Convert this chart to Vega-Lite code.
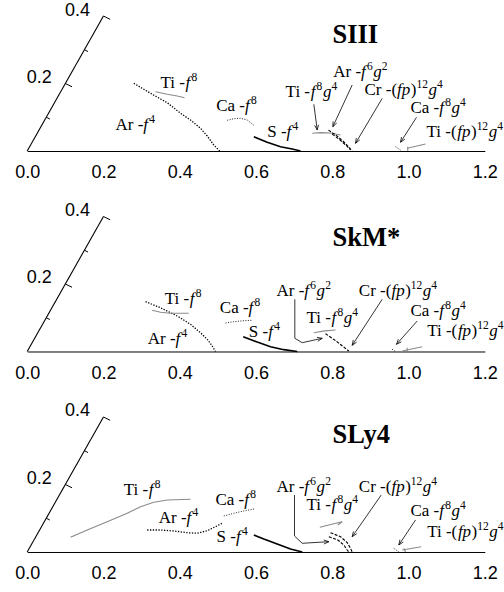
{
"$schema":"https://vega.github.io/schema/vega-lite/v6.json",
"padding":{"left":14.2,"top":0,"right":0,"bottom":0},
"data":{"values":[
{"p":"SIII","k":"oax","x":0,"y":0,"x2":0.2,"y2":0.4},
{"p":"SkM*","k":"oax","x":0,"y":0,"x2":0.2,"y2":0.4},
{"p":"SLy4","k":"oax","x":0,"y":0,"x2":0.2,"y2":0.4},
{"p":"SIII","k":"omaj","x":0.1,"y":0.2},{"p":"SIII","k":"omaj","x":0.2,"y":0.4},
{"p":"SkM*","k":"omaj","x":0.1,"y":0.2},{"p":"SkM*","k":"omaj","x":0.2,"y":0.4},
{"p":"SLy4","k":"omaj","x":0.1,"y":0.2},{"p":"SLy4","k":"omaj","x":0.2,"y":0.4},
{"p":"SIII","k":"omin","x":0.05,"y":0.1},{"p":"SIII","k":"omin","x":0.15,"y":0.3},
{"p":"SkM*","k":"omin","x":0.05,"y":0.1},{"p":"SkM*","k":"omin","x":0.15,"y":0.3},
{"p":"SLy4","k":"omin","x":0.05,"y":0.1},{"p":"SLy4","k":"omin","x":0.15,"y":0.3},
{"p":"SIII","k":"ol","x":0.1,"y":0.2,"t":"0.2"},{"p":"SIII","k":"ol","x":0.2,"y":0.4,"t":"0.4"},
{"p":"SkM*","k":"ol","x":0.1,"y":0.2,"t":"0.2"},{"p":"SkM*","k":"ol","x":0.2,"y":0.4,"t":"0.4"},
{"p":"SLy4","k":"ol","x":0.1,"y":0.2,"t":"0.2"},{"p":"SLy4","k":"ol","x":0.2,"y":0.4,"t":"0.4"},
{"p":"SIII","k":"xmaj","x":0.2},{"p":"SIII","k":"xmaj","x":0.4},{"p":"SIII","k":"xmaj","x":0.6},{"p":"SIII","k":"xmaj","x":0.8},{"p":"SIII","k":"xmaj","x":1.0},{"p":"SIII","k":"xmaj","x":1.2},
{"p":"SkM*","k":"xmaj","x":0.2},{"p":"SkM*","k":"xmaj","x":0.4},{"p":"SkM*","k":"xmaj","x":0.6},{"p":"SkM*","k":"xmaj","x":0.8},{"p":"SkM*","k":"xmaj","x":1.0},{"p":"SkM*","k":"xmaj","x":1.2},
{"p":"SLy4","k":"xmaj","x":0.2},{"p":"SLy4","k":"xmaj","x":0.4},{"p":"SLy4","k":"xmaj","x":0.6},{"p":"SLy4","k":"xmaj","x":0.8},{"p":"SLy4","k":"xmaj","x":1.0},{"p":"SLy4","k":"xmaj","x":1.2},
{"p":"SIII","k":"xmin","x":0.1},{"p":"SIII","k":"xmin","x":0.3},{"p":"SIII","k":"xmin","x":0.5},{"p":"SIII","k":"xmin","x":0.7},{"p":"SIII","k":"xmin","x":0.9},{"p":"SIII","k":"xmin","x":1.1},
{"p":"SkM*","k":"xmin","x":0.1},{"p":"SkM*","k":"xmin","x":0.3},{"p":"SkM*","k":"xmin","x":0.5},{"p":"SkM*","k":"xmin","x":0.7},{"p":"SkM*","k":"xmin","x":0.9},{"p":"SkM*","k":"xmin","x":1.1},
{"p":"SLy4","k":"xmin","x":0.1},{"p":"SLy4","k":"xmin","x":0.3},{"p":"SLy4","k":"xmin","x":0.5},{"p":"SLy4","k":"xmin","x":0.7},{"p":"SLy4","k":"xmin","x":0.9},{"p":"SLy4","k":"xmin","x":1.1},

{"p":"SIII","k":"T","x":0.8006,"y":0.32,"t":"SIII"},
{"p":"SkM*","k":"T","x":0.8006,"y":0.3126,"t":"SkM*"},
{"p":"SLy4","k":"T","x":0.8006,"y":0.322,"t":"SLy4"},

{"p":"SIII","k":"r","x":0.3496,"y":0.1876,"t":"Ti -"},{"p":"SIII","k":"i","x":0.4152,"y":0.1876,"t":"f"},{"p":"SIII","k":"s","x":0.4309,"y":0.1876,"t":"8"},
{"p":"SIII","k":"r","x":0.2316,"y":0.0622,"t":"Ar -"},{"p":"SIII","k":"i","x":0.3045,"y":0.0622,"t":"f"},{"p":"SIII","k":"s","x":0.3202,"y":0.0622,"t":"4"},
{"p":"SIII","k":"r","x":0.4957,"y":0.1193,"t":"Ca -"},{"p":"SIII","k":"i","x":0.5712,"y":0.1193,"t":"f"},{"p":"SIII","k":"s","x":0.5870,"y":0.1193,"t":"8"},
{"p":"SIII","k":"r","x":0.6294,"y":0.0424,"t":"S -"},{"p":"SIII","k":"i","x":0.6803,"y":0.0424,"t":"f"},{"p":"SIII","k":"s","x":0.6960,"y":0.0424,"t":"4"},
{"p":"SIII","k":"r","x":0.6777,"y":0.16,"t":"Ti -"},{"p":"SIII","k":"i","x":0.7433,"y":0.16,"t":"f"},{"p":"SIII","k":"s","x":0.7590,"y":0.16,"t":"8"},{"p":"SIII","k":"i","x":0.7755,"y":0.16,"t":"g"},{"p":"SIII","k":"s","x":0.7978,"y":0.16,"t":"4"},
{"p":"SIII","k":"r","x":0.8025,"y":0.2193,"t":"Ar -"},{"p":"SIII","k":"i","x":0.8754,"y":0.2193,"t":"f"},{"p":"SIII","k":"s","x":0.8911,"y":0.2193,"t":"6"},{"p":"SIII","k":"i","x":0.9077,"y":0.2193,"t":"g"},{"p":"SIII","k":"s","x":0.9300,"y":0.2193,"t":"2"},
{"p":"SIII","k":"r","x":0.8846,"y":0.165,"t":"Cr -("},{"p":"SIII","k":"i","x":0.9701,"y":0.165,"t":"fp"},{"p":"SIII","k":"r","x":1.0060,"y":0.165,"t":")"},{"p":"SIII","k":"s","x":1.0210,"y":0.165,"t":"12"},{"p":"SIII","k":"i","x":1.0524,"y":0.165,"t":"g"},{"p":"SIII","k":"s","x":1.0747,"y":0.165,"t":"4"},
{"p":"SIII","k":"r","x":1.0052,"y":0.1117,"t":"Ca -"},{"p":"SIII","k":"i","x":1.0807,"y":0.1117,"t":"f"},{"p":"SIII","k":"s","x":1.0965,"y":0.1117,"t":"8"},{"p":"SIII","k":"i","x":1.1130,"y":0.1117,"t":"g"},{"p":"SIII","k":"s","x":1.1353,"y":0.1117,"t":"4"},
{"p":"SIII","k":"r","x":1.0472,"y":0.0424,"t":"Ti -("},{"p":"SIII","k":"i","x":1.1277,"y":0.0424,"t":"fp"},{"p":"SIII","k":"r","x":1.1636,"y":0.0424,"t":")"},{"p":"SIII","k":"s","x":1.1786,"y":0.0424,"t":"12"},{"p":"SIII","k":"i","x":1.2101,"y":0.0424,"t":"g"},{"p":"SIII","k":"s","x":1.2324,"y":0.0424,"t":"4"},

{"p":"SkM*","k":"r","x":0.3609,"y":0.1399,"t":"Ti -"},{"p":"SkM*","k":"i","x":0.4265,"y":0.1399,"t":"f"},{"p":"SkM*","k":"s","x":0.4422,"y":0.1399,"t":"8"},
{"p":"SkM*","k":"r","x":0.3163,"y":0.0213,"t":"Ar -"},{"p":"SkM*","k":"i","x":0.3892,"y":0.0213,"t":"f"},{"p":"SkM*","k":"s","x":0.4049,"y":0.0213,"t":"4"},
{"p":"SkM*","k":"r","x":0.5051,"y":0.115,"t":"Ca -"},{"p":"SkM*","k":"i","x":0.5806,"y":0.115,"t":"f"},{"p":"SkM*","k":"s","x":0.5964,"y":0.115,"t":"8"},
{"p":"SkM*","k":"r","x":0.5812,"y":0.0439,"t":"S -"},{"p":"SkM*","k":"i","x":0.6321,"y":0.0439,"t":"f"},{"p":"SkM*","k":"s","x":0.6478,"y":0.0439,"t":"4"},
{"p":"SkM*","k":"r","x":0.6538,"y":0.1644,"t":"Ar -"},{"p":"SkM*","k":"i","x":0.7267,"y":0.1644,"t":"f"},{"p":"SkM*","k":"s","x":0.7424,"y":0.1644,"t":"6"},{"p":"SkM*","k":"i","x":0.7590,"y":0.1644,"t":"g"},{"p":"SkM*","k":"s","x":0.7813,"y":0.1644,"t":"2"},
{"p":"SkM*","k":"r","x":0.7325,"y":0.0853,"t":"Ti -"},{"p":"SkM*","k":"i","x":0.7981,"y":0.0853,"t":"f"},{"p":"SkM*","k":"s","x":0.8138,"y":0.0853,"t":"8"},{"p":"SkM*","k":"i","x":0.8303,"y":0.0853,"t":"g"},{"p":"SkM*","k":"s","x":0.8526,"y":0.0853,"t":"4"},
{"p":"SkM*","k":"r","x":0.8697,"y":0.1644,"t":"Cr -("},{"p":"SkM*","k":"i","x":0.9552,"y":0.1644,"t":"fp"},{"p":"SkM*","k":"r","x":0.9911,"y":0.1644,"t":")"},{"p":"SkM*","k":"s","x":1.0061,"y":0.1644,"t":"12"},{"p":"SkM*","k":"i","x":1.0375,"y":0.1644,"t":"g"},{"p":"SkM*","k":"s","x":1.0598,"y":0.1644,"t":"4"},
{"p":"SkM*","k":"r","x":1.0052,"y":0.1052,"t":"Ca -"},{"p":"SkM*","k":"i","x":1.0807,"y":0.1052,"t":"f"},{"p":"SkM*","k":"s","x":1.0965,"y":0.1052,"t":"8"},{"p":"SkM*","k":"i","x":1.1130,"y":0.1052,"t":"g"},{"p":"SkM*","k":"s","x":1.1353,"y":0.1052,"t":"4"},
{"p":"SkM*","k":"r","x":1.049,"y":0.0459,"t":"Ti -("},{"p":"SkM*","k":"i","x":1.1295,"y":0.0459,"t":"fp"},{"p":"SkM*","k":"r","x":1.1654,"y":0.0459,"t":")"},{"p":"SkM*","k":"s","x":1.1804,"y":0.0459,"t":"12"},{"p":"SkM*","k":"i","x":1.2119,"y":0.0459,"t":"g"},{"p":"SkM*","k":"s","x":1.2342,"y":0.0459,"t":"4"},

{"p":"SLy4","k":"r","x":0.2533,"y":0.1689,"t":"Ti -"},{"p":"SLy4","k":"i","x":0.3189,"y":0.1689,"t":"f"},{"p":"SLy4","k":"s","x":0.3346,"y":0.1689,"t":"8"},
{"p":"SLy4","k":"r","x":0.3451,"y":0.0868,"t":"Ar -"},{"p":"SLy4","k":"i","x":0.4180,"y":0.0868,"t":"f"},{"p":"SLy4","k":"s","x":0.4337,"y":0.0868,"t":"4"},
{"p":"SLy4","k":"r","x":0.4938,"y":0.1393,"t":"Ca -"},{"p":"SLy4","k":"i","x":0.5693,"y":0.1393,"t":"f"},{"p":"SLy4","k":"s","x":0.5851,"y":0.1393,"t":"8"},
{"p":"SLy4","k":"r","x":0.4965,"y":0.0305,"t":"S -"},{"p":"SLy4","k":"i","x":0.5474,"y":0.0305,"t":"f"},{"p":"SLy4","k":"s","x":0.5631,"y":0.0305,"t":"4"},
{"p":"SLy4","k":"r","x":0.6538,"y":0.1787,"t":"Ar -"},{"p":"SLy4","k":"i","x":0.7267,"y":0.1787,"t":"f"},{"p":"SLy4","k":"s","x":0.7424,"y":0.1787,"t":"6"},{"p":"SLy4","k":"i","x":0.7590,"y":0.1787,"t":"g"},{"p":"SLy4","k":"s","x":0.7813,"y":0.1787,"t":"2"},
{"p":"SLy4","k":"r","x":0.7325,"y":0.1244,"t":"Ti -"},{"p":"SLy4","k":"i","x":0.7981,"y":0.1244,"t":"f"},{"p":"SLy4","k":"s","x":0.8138,"y":0.1244,"t":"8"},{"p":"SLy4","k":"i","x":0.8303,"y":0.1244,"t":"g"},{"p":"SLy4","k":"s","x":0.8526,"y":0.1244,"t":"4"},
{"p":"SLy4","k":"r","x":0.8697,"y":0.1787,"t":"Cr -("},{"p":"SLy4","k":"i","x":0.9552,"y":0.1787,"t":"fp"},{"p":"SLy4","k":"r","x":0.9911,"y":0.1787,"t":")"},{"p":"SLy4","k":"s","x":1.0061,"y":0.1787,"t":"12"},{"p":"SLy4","k":"i","x":1.0375,"y":0.1787,"t":"g"},{"p":"SLy4","k":"s","x":1.0598,"y":0.1787,"t":"4"},
{"p":"SLy4","k":"r","x":1.0052,"y":0.1067,"t":"Ca -"},{"p":"SLy4","k":"i","x":1.0807,"y":0.1067,"t":"f"},{"p":"SLy4","k":"s","x":1.0965,"y":0.1067,"t":"8"},{"p":"SLy4","k":"i","x":1.1130,"y":0.1067,"t":"g"},{"p":"SLy4","k":"s","x":1.1353,"y":0.1067,"t":"4"},
{"p":"SLy4","k":"r","x":1.049,"y":0.0453,"t":"Ti -("},{"p":"SLy4","k":"i","x":1.1295,"y":0.0453,"t":"fp"},{"p":"SLy4","k":"r","x":1.1654,"y":0.0453,"t":")"},{"p":"SLy4","k":"s","x":1.1804,"y":0.0453,"t":"12"},{"p":"SLy4","k":"i","x":1.2119,"y":0.0453,"t":"g"},{"p":"SLy4","k":"s","x":1.2342,"y":0.0453,"t":"4"},

{"p":"SIII","k":"dot","c":"arf4","i":0,"x":0.2796,"y":0.2006},{"p":"SIII","k":"dot","c":"arf4","i":1,"x":0.3234,"y":0.1710},{"p":"SIII","k":"dot","c":"arf4","i":2,"x":0.3672,"y":0.1431},{"p":"SIII","k":"dot","c":"arf4","i":3,"x":0.4020,"y":0.1117},{"p":"SIII","k":"dot","c":"arf4","i":4,"x":0.4283,"y":0.0919},{"p":"SIII","k":"dot","c":"arf4","i":5,"x":0.4545,"y":0.0673},{"p":"SIII","k":"dot","c":"arf4","i":6,"x":0.4721,"y":0.0444},{"p":"SIII","k":"dot","c":"arf4","i":7,"x":0.4894,"y":0.0178},{"p":"SIII","k":"dot","c":"arf4","i":8,"x":0.5050,"y":0.0},
{"p":"SIII","k":"gray","c":"tif8","i":0,"x":0.3365,"y":0.1757},{"p":"SIII","k":"gray","c":"tif8","i":1,"x":0.3672,"y":0.1680},{"p":"SIII","k":"gray","c":"tif8","i":2,"x":0.3934,"y":0.1630},{"p":"SIII","k":"gray","c":"tif8","i":3,"x":0.4125,"y":0.1579},
{"p":"SIII","k":"dot2","c":"caf8","i":0,"x":0.5245,"y":0.0910},{"p":"SIII","k":"dot2","c":"caf8","i":1,"x":0.5418,"y":0.0957},{"p":"SIII","k":"dot2","c":"caf8","i":2,"x":0.5594,"y":0.0969},{"p":"SIII","k":"dot2","c":"caf8","i":3,"x":0.5770,"y":0.0919},{"p":"SIII","k":"dot2","c":"caf8","i":4,"x":0.5961,"y":0.0750},
{"p":"SIII","k":"thick","c":"sf4","i":0,"x":0.5943,"y":0.0424},{"p":"SIII","k":"thick","c":"sf4","i":1,"x":0.6294,"y":0.0258},{"p":"SIII","k":"thick","c":"sf4","i":2,"x":0.6643,"y":0.0127},{"p":"SIII","k":"thick","c":"sf4","i":3,"x":0.6950,"y":0.0059},{"p":"SIII","k":"thick","c":"sf4","i":4,"x":0.7168,"y":0.0},
{"p":"SIII","k":"gray","c":"tif8g4","i":0,"x":0.7475,"y":0.0524},{"p":"SIII","k":"gray","c":"tif8g4","i":1,"x":0.7700,"y":0.0545},{"p":"SIII","k":"gray","c":"tif8g4","i":2,"x":0.7954,"y":0.0533},{"p":"SIII","k":"gray","c":"tif8g4","i":3,"x":0.8216,"y":0.0474},
{"p":"SIII","k":"dash","c":"arg2a","i":0,"x":0.7900,"y":0.0620},{"p":"SIII","k":"dash","c":"arg2a","i":1,"x":0.8120,"y":0.0450},{"p":"SIII","k":"dash","c":"arg2a","i":2,"x":0.8350,"y":0.0220},{"p":"SIII","k":"dash","c":"arg2a","i":3,"x":0.8523,"y":0.0},
{"p":"SIII","k":"dash","c":"arg2b","i":0,"x":0.8000,"y":0.0500},{"p":"SIII","k":"dash","c":"arg2b","i":1,"x":0.8200,"y":0.0330},{"p":"SIII","k":"dash","c":"arg2b","i":2,"x":0.8380,"y":0.0150},{"p":"SIII","k":"dash","c":"arg2b","i":3,"x":0.8480,"y":0.0030},
{"p":"SIII","k":"dot2","c":"caf8g4","i":0,"x":0.9659,"y":0.0127},{"p":"SIII","k":"dot2","c":"caf8g4","i":1,"x":0.9790,"y":0.0030},
{"p":"SIII","k":"gray","c":"tifp","i":0,"x":0.9966,"y":0.0080},{"p":"SIII","k":"gray","c":"tifp","i":1,"x":1.0446,"y":0.0207},
{"p":"SIII","k":"gray","c":"tifpt","i":0,"x":0.9980,"y":0.0127},{"p":"SIII","k":"gray","c":"tifpt","i":1,"x":0.9980,"y":0.0},
{"p":"SIII","k":"thin","c":"a1","i":0,"x":0.7517,"y":0.1384},{"p":"SIII","k":"thin","c":"a1","i":1,"x":0.7606,"y":0.0622},
{"p":"SIII","k":"thin","c":"a1h","i":0,"x":0.7537,"y":0.0761},{"p":"SIII","k":"thin","c":"a1h","i":1,"x":0.7606,"y":0.0622},{"p":"SIII","k":"thin","c":"a1h","i":2,"x":0.7640,"y":0.0777},
{"p":"SIII","k":"thin","c":"a2","i":0,"x":0.8523,"y":0.1956},{"p":"SIII","k":"thin","c":"a2","i":1,"x":0.8015,"y":0.0720},
{"p":"SIII","k":"thin","c":"a2h","i":0,"x":0.8023,"y":0.0879},{"p":"SIII","k":"thin","c":"a2h","i":1,"x":0.8015,"y":0.0720},{"p":"SIII","k":"thin","c":"a2h","i":2,"x":0.8118,"y":0.0829},
{"p":"SIII","k":"thin","c":"a3","i":0,"x":0.9310,"y":0.1560},{"p":"SIII","k":"thin","c":"a3","i":1,"x":0.8610,"y":0.0228},
{"p":"SIII","k":"thin","c":"a3h","i":0,"x":0.8630,"y":0.0386},{"p":"SIII","k":"thin","c":"a3h","i":1,"x":0.8610,"y":0.0228},{"p":"SIII","k":"thin","c":"a3h","i":2,"x":0.8721,"y":0.0327},
{"p":"SIII","k":"thin","c":"a4","i":0,"x":1.0210,"y":0.0999},{"p":"SIII","k":"thin","c":"a4","i":1,"x":0.9790,"y":0.0258},
{"p":"SIII","k":"thin","c":"a4h","i":0,"x":0.9817,"y":0.0415},{"p":"SIII","k":"thin","c":"a4h","i":1,"x":0.9790,"y":0.0258},{"p":"SIII","k":"thin","c":"a4h","i":2,"x":0.9905,"y":0.0351},

{"p":"SkM*","k":"dot","c":"arf4","i":0,"x":0.3103,"y":0.1476},{"p":"SkM*","k":"dot","c":"arf4","i":1,"x":0.3496,"y":0.1298},{"p":"SkM*","k":"dot","c":"arf4","i":2,"x":0.3934,"y":0.1052},{"p":"SkM*","k":"dot","c":"arf4","i":3,"x":0.4283,"y":0.0806},{"p":"SkM*","k":"dot","c":"arf4","i":4,"x":0.4545,"y":0.0557},{"p":"SkM*","k":"dot","c":"arf4","i":5,"x":0.4721,"y":0.0361},{"p":"SkM*","k":"dot","c":"arf4","i":6,"x":0.4852,"y":0.0163},{"p":"SkM*","k":"dot","c":"arf4","i":7,"x":0.4938,"y":0.0},
{"p":"SkM*","k":"gray","c":"tif8","i":0,"x":0.3278,"y":0.1221},{"p":"SkM*","k":"gray","c":"tif8","i":1,"x":0.3496,"y":0.1161},{"p":"SkM*","k":"gray","c":"tif8","i":2,"x":0.3758,"y":0.1132},{"p":"SkM*","k":"gray","c":"tif8","i":3,"x":0.4238,"y":0.1132},
{"p":"SkM*","k":"dot2","c":"caf8","i":0,"x":0.5201,"y":0.0844},{"p":"SkM*","k":"dot2","c":"caf8","i":1,"x":0.5418,"y":0.0883},{"p":"SkM*","k":"dot2","c":"caf8","i":2,"x":0.5681,"y":0.0913},{"p":"SkM*","k":"dot2","c":"caf8","i":3,"x":0.5901,"y":0.0924},
{"p":"SkM*","k":"thick","c":"sf4","i":0,"x":0.5665,"y":0.0439},{"p":"SkM*","k":"thick","c":"sf4","i":1,"x":0.6032,"y":0.0281},{"p":"SkM*","k":"thick","c":"sf4","i":2,"x":0.6381,"y":0.0142},{"p":"SkM*","k":"thick","c":"sf4","i":3,"x":0.6730,"y":0.0053},{"p":"SkM*","k":"thick","c":"sf4","i":4,"x":0.7081,"y":0.0},
{"p":"SkM*","k":"thin","c":"lead","i":0,"x":0.7018,"y":0.1547},{"p":"SkM*","k":"thin","c":"lead","i":1,"x":0.7018,"y":0.0391},{"p":"SkM*","k":"thin","c":"lead","i":2,"x":0.7212,"y":0.0261},{"p":"SkM*","k":"thin","c":"lead","i":3,"x":0.7737,"y":0.0391},
{"p":"SkM*","k":"thin","c":"leadh","i":0,"x":0.7620,"y":0.0301},{"p":"SkM*","k":"thin","c":"leadh","i":1,"x":0.7737,"y":0.0391},{"p":"SkM*","k":"thin","c":"leadh","i":2,"x":0.7598,"y":0.0417},
{"p":"SkM*","k":"gray","c":"tif8g4","i":0,"x":0.7517,"y":0.0557},{"p":"SkM*","k":"gray","c":"tif8g4","i":1,"x":0.7800,"y":0.0610},{"p":"SkM*","k":"gray","c":"tif8g4","i":2,"x":0.8085,"y":0.0637},
{"p":"SkM*","k":"dash","c":"arg2a","i":0,"x":0.7823,"y":0.0527},{"p":"SkM*","k":"dash","c":"arg2a","i":1,"x":0.8100,"y":0.0310},{"p":"SkM*","k":"dash","c":"arg2a","i":2,"x":0.8434,"y":0.0015},
{"p":"SkM*","k":"thin","c":"a3","i":0,"x":0.9310,"y":0.1547},{"p":"SkM*","k":"thin","c":"a3","i":1,"x":0.8523,"y":0.0184},
{"p":"SkM*","k":"thin","c":"a3h","i":0,"x":0.8551,"y":0.0340},{"p":"SkM*","k":"thin","c":"a3h","i":1,"x":0.8523,"y":0.0184},{"p":"SkM*","k":"thin","c":"a3h","i":2,"x":0.8639,"y":0.0276},
{"p":"SkM*","k":"thin","c":"a4","i":0,"x":1.0228,"y":0.0904},{"p":"SkM*","k":"thin","c":"a4","i":1,"x":0.9685,"y":0.0213},
{"p":"SkM*","k":"thin","c":"a4h","i":0,"x":0.9733,"y":0.0364},{"p":"SkM*","k":"thin","c":"a4h","i":1,"x":0.9685,"y":0.0213},{"p":"SkM*","k":"thin","c":"a4h","i":2,"x":0.9812,"y":0.0285},
{"p":"SkM*","k":"dot2","c":"caf8g4","i":0,"x":0.9572,"y":0.0065},{"p":"SkM*","k":"dot2","c":"caf8g4","i":1,"x":0.9659,"y":0.0},
{"p":"SkM*","k":"gray","c":"tifp","i":0,"x":0.9835,"y":0.0015},{"p":"SkM*","k":"gray","c":"tifp","i":1,"x":1.0359,"y":0.0142},
{"p":"SkM*","k":"gray","c":"tifpt","i":0,"x":0.9966,"y":0.0113},{"p":"SkM*","k":"gray","c":"tifpt","i":1,"x":0.9966,"y":0.0015},

{"p":"SLy4","k":"gray","c":"tif8","i":0,"x":0.1136,"y":0.0436},{"p":"SLy4","k":"gray","c":"tif8","i":1,"x":0.1574,"y":0.0652},{"p":"SLy4","k":"gray","c":"tif8","i":2,"x":0.2098,"y":0.0898},{"p":"SLy4","k":"gray","c":"tif8","i":3,"x":0.2623,"y":0.1147},{"p":"SLy4","k":"gray","c":"tif8","i":4,"x":0.2971,"y":0.1342},{"p":"SLy4","k":"gray","c":"tif8","i":5,"x":0.3320,"y":0.1473},{"p":"SLy4","k":"gray","c":"tif8","i":6,"x":0.3672,"y":0.1541},{"p":"SLy4","k":"gray","c":"tif8","i":7,"x":0.4283,"y":0.1561},
{"p":"SLy4","k":"dot","c":"arf4","i":0,"x":0.3147,"y":0.0652},{"p":"SLy4","k":"dot","c":"arf4","i":1,"x":0.3496,"y":0.0652},{"p":"SLy4","k":"dot","c":"arf4","i":2,"x":0.3845,"y":0.0622},{"p":"SLy4","k":"dot","c":"arf4","i":3,"x":0.4196,"y":0.0572},{"p":"SLy4","k":"dot","c":"arf4","i":4,"x":0.4458,"y":0.0554},{"p":"SLy4","k":"dot","c":"arf4","i":5,"x":0.4721,"y":0.0631},{"p":"SLy4","k":"dot","c":"arf4","i":6,"x":0.4938,"y":0.0750},{"p":"SLy4","k":"dot","c":"arf4","i":7,"x":0.5140,"y":0.0868},
{"p":"SLy4","k":"dot2","c":"caf8","i":0,"x":0.5156,"y":0.1067},{"p":"SLy4","k":"dot2","c":"caf8","i":1,"x":0.5418,"y":0.1147},{"p":"SLy4","k":"dot2","c":"caf8","i":2,"x":0.5681,"y":0.1215},{"p":"SLy4","k":"dot2","c":"caf8","i":3,"x":0.5987,"y":0.1283},
{"p":"SLy4","k":"thick","c":"sf4","i":0,"x":0.5943,"y":0.0504},{"p":"SLy4","k":"thick","c":"sf4","i":1,"x":0.6205,"y":0.0385},{"p":"SLy4","k":"thick","c":"sf4","i":2,"x":0.6556,"y":0.0237},{"p":"SLy4","k":"thick","c":"sf4","i":3,"x":0.6905,"y":0.0089},{"p":"SLy4","k":"thick","c":"sf4","i":4,"x":0.7212,"y":0.0},
{"p":"SLy4","k":"thin","c":"lead","i":0,"x":0.7010,"y":0.1689},{"p":"SLy4","k":"thin","c":"lead","i":1,"x":0.7010,"y":0.0474},{"p":"SLy4","k":"thin","c":"lead","i":2,"x":0.7212,"y":0.0258},{"p":"SLy4","k":"thin","c":"lead","i":3,"x":0.7910,"y":0.0305},
{"p":"SLy4","k":"thin","c":"leadh","i":0,"x":0.7782,"y":0.0237},{"p":"SLy4","k":"thin","c":"leadh","i":1,"x":0.7910,"y":0.0305},{"p":"SLy4","k":"thin","c":"leadh","i":2,"x":0.7776,"y":0.0356},
{"p":"SLy4","k":"gray","c":"tif8g4","i":0,"x":0.7674,"y":0.0732},{"p":"SLy4","k":"gray","c":"tif8g4","i":1,"x":0.8041,"y":0.0839},{"p":"SLy4","k":"gray","c":"tif8g4","i":2,"x":0.8261,"y":0.0898},{"p":"SLy4","k":"gray","c":"tif8g4","i":3,"x":0.8146,"y":0.0800},
{"p":"SLy4","k":"dash","c":"arg2a","i":0,"x":0.7954,"y":0.0572},{"p":"SLy4","k":"dash","c":"arg2a","i":1,"x":0.8216,"y":0.0453},{"p":"SLy4","k":"dash","c":"arg2a","i":2,"x":0.8392,"y":0.0276},{"p":"SLy4","k":"dash","c":"arg2a","i":3,"x":0.8479,"y":0.0110},{"p":"SLy4","k":"dash","c":"arg2a","i":4,"x":0.8523,"y":0.0},
{"p":"SLy4","k":"dash","c":"arg2b","i":0,"x":0.7910,"y":0.0453},{"p":"SLy4","k":"dash","c":"arg2b","i":1,"x":0.8146,"y":0.0356},{"p":"SLy4","k":"dash","c":"arg2b","i":2,"x":0.8303,"y":0.0207},{"p":"SLy4","k":"dash","c":"arg2b","i":3,"x":0.8392,"y":0.0059},{"p":"SLy4","k":"dash","c":"arg2b","i":4,"x":0.8434,"y":0.0},
{"p":"SLy4","k":"thin","c":"a3","i":0,"x":0.9284,"y":0.1689},{"p":"SLy4","k":"thin","c":"a3","i":1,"x":0.8523,"y":0.0454},
{"p":"SLy4","k":"thin","c":"a3h","i":0,"x":0.8555,"y":0.0609},{"p":"SLy4","k":"thin","c":"a3h","i":1,"x":0.8523,"y":0.0454},{"p":"SLy4","k":"thin","c":"a3h","i":2,"x":0.8642,"y":0.0541},
{"p":"SLy4","k":"thin","c":"a4","i":0,"x":1.0184,"y":0.0948},{"p":"SLy4","k":"thin","c":"a4","i":1,"x":0.9746,"y":0.0207},
{"p":"SLy4","k":"thin","c":"a4h","i":0,"x":0.9775,"y":0.0364},{"p":"SLy4","k":"thin","c":"a4h","i":1,"x":0.9746,"y":0.0207},{"p":"SLy4","k":"thin","c":"a4h","i":2,"x":0.9862,"y":0.0298},
{"p":"SLy4","k":"dot2","c":"caf8g4","i":0,"x":0.9614,"y":0.0110},{"p":"SLy4","k":"dot2","c":"caf8g4","i":1,"x":0.9746,"y":0.0},
{"p":"SLy4","k":"gray","c":"tifp","i":0,"x":0.9835,"y":0.0059},{"p":"SLy4","k":"gray","c":"tifp","i":1,"x":1.0333,"y":0.0157},
{"p":"SLy4","k":"gray","c":"tifpt","i":0,"x":0.9877,"y":0.0110},{"p":"SLy4","k":"gray","c":"tifpt","i":1,"x":0.9921,"y":0.0}
]},
"facet":{"row":{"field":"p","type":"nominal","sort":["SIII","SkM*","SLy4"],"title":null,"header":{"labels":false,"title":null}}},
"spacing":49.5,
"bounds":"flush",
"resolve":{"axis":{"x":"independent"}},
"spec":{
"width":457.6,"height":151,
"encoding":{
"x":{"field":"x","type":"quantitative","scale":{"domain":[0,1.2],"nice":false,"zero":false},
"axis":{"values":[0,0.2,0.4,0.6,0.8,1,1.2],"format":".1f","ticks":false,"grid":false,"title":null,"labelFlush":false,"labelOverlap":false,"labelFont":"Liberation Sans","labelFontSize":18,"labelColor":"black","labelPadding":12.7,"domainColor":"black","domainWidth":1}},
"y":{"field":"y","type":"quantitative","scale":{"domain":[0,0.4474],"nice":false,"zero":false},"axis":null}
},
"layer":[
{"transform":[{"filter":"datum.k==='xmaj'"}],"mark":{"type":"rule","color":"black","strokeWidth":1},"encoding":{"y":{"datum":0},"y2":{"datum":0.0148}}},
{"transform":[{"filter":"datum.k==='xmin'"}],"mark":{"type":"rule","color":"black","strokeWidth":1},"encoding":{"y":{"datum":0},"y2":{"datum":0.0074}}},
{"transform":[{"filter":"datum.k==='oax'"}],"mark":{"type":"rule","color":"black","strokeWidth":1.1},"encoding":{"x2":{"field":"x2"},"y2":{"field":"y2"}}},
{"transform":[{"filter":"datum.k==='omaj'"}],"mark":{"type":"rule","color":"black","strokeWidth":1,"x2Offset":6.7,"y2Offset":3.3},"encoding":{"x2":{"field":"x"},"y2":{"field":"y"}}},
{"transform":[{"filter":"datum.k==='omin'"}],"mark":{"type":"rule","color":"black","strokeWidth":1,"x2Offset":3.6,"y2Offset":1.8},"encoding":{"x2":{"field":"x"},"y2":{"field":"y"}}},
{"transform":[{"filter":"datum.k==='ol'"}],"mark":{"type":"text","font":"Liberation Sans","fontSize":18,"color":"black","align":"center","baseline":"alphabetic","dx":-26,"dy":-0.5},"encoding":{"text":{"field":"t"}}},
{"transform":[{"filter":"datum.k==='dot'"}],"mark":{"type":"line","color":"black","strokeWidth":1.3,"strokeDash":[1.3,1.5]},"encoding":{"detail":{"field":"c"},"order":{"field":"i"}}},
{"transform":[{"filter":"datum.k==='dot2'"}],"mark":{"type":"line","color":"#222","strokeWidth":1,"strokeDash":[1,1.5]},"encoding":{"detail":{"field":"c"},"order":{"field":"i"}}},
{"transform":[{"filter":"datum.k==='gray'"}],"mark":{"type":"line","color":"#8a8a8a","strokeWidth":1.1},"encoding":{"detail":{"field":"c"},"order":{"field":"i"}}},
{"transform":[{"filter":"datum.k==='thick'"}],"mark":{"type":"line","color":"black","strokeWidth":1.7},"encoding":{"detail":{"field":"c"},"order":{"field":"i"}}},
{"transform":[{"filter":"datum.k==='dash'"}],"mark":{"type":"line","color":"black","strokeWidth":1.1,"strokeDash":[3,1.5]},"encoding":{"detail":{"field":"c"},"order":{"field":"i"}}},
{"transform":[{"filter":"datum.k==='thin'"}],"mark":{"type":"line","color":"black","strokeWidth":0.8},"encoding":{"detail":{"field":"c"},"order":{"field":"i"}}},
{"transform":[{"filter":"datum.k==='r'"}],"mark":{"type":"text","font":"Liberation Serif","fontSize":17,"color":"black","align":"left","baseline":"alphabetic"},"encoding":{"text":{"field":"t"}}},
{"transform":[{"filter":"datum.k==='i'"}],"mark":{"type":"text","font":"Liberation Serif","fontSize":17,"fontStyle":"italic","color":"black","align":"left","baseline":"alphabetic"},"encoding":{"text":{"field":"t"}}},
{"transform":[{"filter":"datum.k==='s'"}],"mark":{"type":"text","font":"Liberation Serif","fontSize":11.5,"color":"black","align":"left","baseline":"alphabetic","dy":-7},"encoding":{"text":{"field":"t"}}},
{"transform":[{"filter":"datum.k==='T'"}],"mark":{"type":"text","font":"Liberation Serif","fontSize":26.5,"fontWeight":"bold","color":"black","align":"left","baseline":"alphabetic"},"encoding":{"text":{"field":"t"}}}
]
},
"config":{"view":{"stroke":null}}
}
